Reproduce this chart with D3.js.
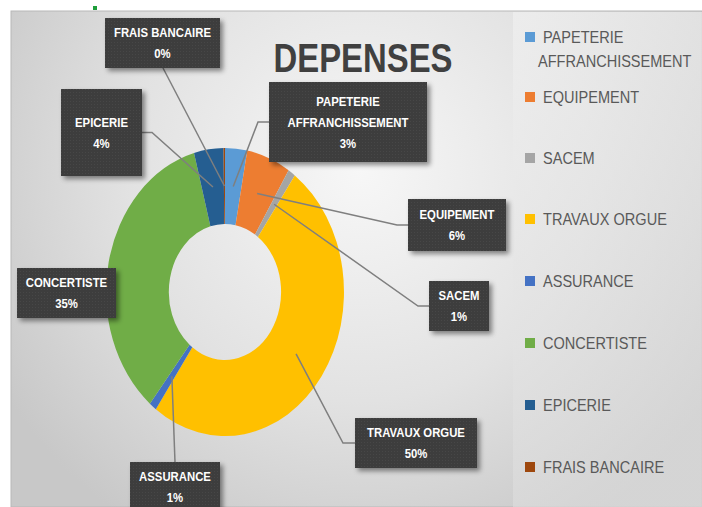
<!DOCTYPE html>
<html>
<head>
<meta charset="utf-8">
<script src="https://cdn.jsdelivr.net/npm/d3@7"></script>
<style>
  body { margin: 0; background: #fff; }
  svg { display: block; }
</style>
</head>
<body>
<div id="chart"></div>
<script>
// --------------------------------------
//  data
// --------------------------------------

const categories = ["PAPETERIE AFFRANCHISSEMENT", "EQUIPEMENT", "SACEM", "TRAVAUX ORGUE",
                    "ASSURANCE", "CONCERTISTE", "EPICERIE", "FRAIS BANCAIRE"];
const values = [3, 6, 1, 50, 1, 35, 4, 0.2];
const colors = ["#5B9BD5", "#ED7D31", "#A5A5A5", "#FFC000", "#4472C4", "#70AD47", "#255E91", "#9E480E"];

// label boxes: [x, y, w, h, elbow x] (layout only)
const labelBoxes = [
  [269, 82, 158, 80, 258],
  [408, 199, 98, 52, 397],
  [429, 281, 60, 50, 418],
  [355, 418, 122, 50, 343],
  [130, 462, 90, 50, null],
  [17, 268, 99, 50, null],
  [61, 89, 81, 87, 152],
  [105, 18, 115, 50, null]
];

const width = 702, height = 507;
const cx = 225, cy = 292;
const rOuter = 144, rInner = 68, sx = 0.826;
const font = "'Liberation Sans', Arial, sans-serif";

const svg = d3.select("#chart")
  .append("svg")
    .attr("width", width)
    .attr("height", height);

const defs = svg.append("defs");

const bg = defs.append("radialGradient")
    .attr("id", "bg")
    .attr("gradientUnits", "userSpaceOnUse")
    .attr("cx", 360).attr("cy", 170).attr("r", 420);
bg.append("stop").attr("offset", "0%").attr("stop-color", "#f7f7f7");
bg.append("stop").attr("offset", "55%").attr("stop-color", "#e2e2e2");
bg.append("stop").attr("offset", "100%").attr("stop-color", "#c8c8c8");

const lg = defs.append("linearGradient")
    .attr("id", "lg")
    .attr("x1", 0).attr("y1", 0).attr("x2", 0.3).attr("y2", 1);
lg.append("stop").attr("offset", "0%").attr("stop-color", "#f0f0f0");
lg.append("stop").attr("offset", "100%").attr("stop-color", "#dadada");

const shadow = defs.append("filter")
    .attr("id", "shadow")
    .attr("x", "-20%").attr("y", "-20%").attr("width", "150%").attr("height", "150%");
shadow.append("feDropShadow")
    .attr("dx", 3).attr("dy", 3).attr("stdDeviation", 2.5)
    .attr("flood-color", "#000").attr("flood-opacity", 0.45);

const dots = defs.append("pattern")
    .attr("id", "dots")
    .attr("patternUnits", "userSpaceOnUse")
    .attr("width", 3).attr("height", 3);
dots.append("rect").attr("width", 3).attr("height", 3).attr("fill", "#3d3d3d");
dots.append("rect").attr("width", 1).attr("height", 1).attr("fill", "#474747");

// squeeze a text horizontally (narrow look like Calibri)
function squeeze(sel, k) {
  sel.each(function () {
    const w = this.getComputedTextLength();
    d3.select(this)
      .attr("textLength", w * k)
      .attr("lengthAdjust", "spacingAndGlyphs");
  });
}

// --------------------------------------
//  background
// --------------------------------------

svg.append("rect")
    .attr("x", 93).attr("y", 6).attr("width", 4).attr("height", 4)
    .attr("fill", "#1e9e3a");

svg.append("rect")
    .attr("x", 11).attr("y", 11)
    .attr("width", width - 11).attr("height", height - 11)
    .attr("fill", "url(#bg)")
    .attr("stroke", "#b8b8b8")
    .attr("stroke-width", 1);

svg.append("rect")
    .attr("x", 513).attr("y", 12)
    .attr("width", width - 513).attr("height", height - 12)
    .attr("fill", "url(#lg)")
    .attr("opacity", 0.7);

// --------------------------------------
//  title
// --------------------------------------

svg.append("text")
    .attr("x", 363).attr("y", 72)
    .attr("text-anchor", "middle")
    .attr("font-family", font)
    .attr("font-weight", "bold")
    .attr("font-size", 40)
    .attr("fill", "#404040")
    .attr("textLength", 179)
    .attr("lengthAdjust", "spacingAndGlyphs")
    .text("DEPENSES");

// --------------------------------------
//  donut
// --------------------------------------

const data = categories.map((c, i) => ({ name: c, value: values[i], color: colors[i], box: labelBoxes[i] }));
const total = d3.sum(values);

const pie = d3.pie().value(d => d.value).sort(null);
const arcs = pie(data);

const arc = d3.arc().innerRadius(rInner).outerRadius(rOuter);
const mid = d3.arc().innerRadius(106).outerRadius(106);

const donut = svg.append("g")
    .attr("transform", `translate(${cx}, ${cy}) scale(${sx}, 1)`);

donut.selectAll("path")
  .data(arcs)
  .join("path")
    .attr("d", arc)
    .attr("fill", d => d.data.color);

// --------------------------------------
//  leader lines and labels
// --------------------------------------

const anchor = d => {
  const [x, y] = mid.centroid(d);
  return [cx + x * sx, cy + y];
};

svg.append("g")
  .selectAll("path")
  .data(arcs.filter(d => d.data.name !== "CONCERTISTE"))
  .join("path")
    .attr("fill", "none")
    .attr("stroke", "#7f7f7f")
    .attr("stroke-width", 1.5)
    .attr("d", d => {
      const [ax, ay] = anchor(d);
      const [bx, by, bw, bh, ex] = d.data.box;
      if (ex === null) {
        const px = d.data.name === "ASSURANCE" ? bx + 45 : bx + 58;
        const py = d.data.name === "ASSURANCE" ? by : by + bh;
        return d3.line()([[ax, ay], [px, py]]);
      }
      const ey = by + bh / 2;
      const bxEdge = ex < bx ? bx : bx + bw;
      return d3.line()([[ax, ay], [ex, ey], [bxEdge, ey]]);
    });

const labels = svg.append("g")
  .selectAll("g")
  .data(arcs)
  .join("g")
    .attr("transform", d => `translate(${d.data.box[0]}, ${d.data.box[1]})`);

labels.append("rect")
    .attr("width", d => d.data.box[2])
    .attr("height", d => d.data.box[3])
    .attr("fill", "url(#dots)")
    .attr("filter", "url(#shadow)");

labels.each(function (d) {
  const g = d3.select(this);
  const [bx, by, bw, bh] = d.data.box;
  let lines = [d.data.name];
  if (d.data.name === "PAPETERIE AFFRANCHISSEMENT") lines = ["PAPETERIE", "AFFRANCHISSEMENT"];
  lines.push(Math.round(d.data.value / total * 100) + "%");
  const step = 21;
  const y0 = bh / 2 - (lines.length - 1) * step / 2;
  g.selectAll("text")
    .data(lines)
    .join("text")
      .attr("x", bw / 2)
      .attr("y", (t, i) => y0 + i * step)
      .attr("dy", "0.36em")
      .attr("text-anchor", "middle")
      .attr("font-family", font)
      .attr("font-weight", "bold")
      .attr("font-size", 13.5)
      .attr("fill", "#ffffff")
      .text(t => t)
      .call(squeeze, 0.84);
});

// --------------------------------------
//  legend
// --------------------------------------

const legendY = [37, 97, 158, 219, 281, 343, 405, 467];

const legend = svg.append("g")
  .selectAll("g")
  .data(data)
  .join("g")
    .attr("transform", (d, i) => `translate(525, ${legendY[i]})`);

legend.append("rect")
    .attr("x", 0).attr("y", -5)
    .attr("width", 10).attr("height", 10)
    .attr("fill", d => d.color);

legend.each(function (d) {
  const lines = d.name === "PAPETERIE AFFRANCHISSEMENT" ? ["PAPETERIE", "AFFRANCHISSEMENT"] : [d.name];
  d3.select(this).selectAll("text")
    .data(lines)
    .join("text")
      .attr("x", (t, i) => i === 0 ? 18 : 13)
      .attr("y", (t, i) => i * 24)
      .attr("dy", "0.36em")
      .attr("font-family", font)
      .attr("font-size", 17)
      .attr("fill", "#595959")
      .text(t => t)
      .call(squeeze, 0.855);
});
</script>
</body>
</html>
